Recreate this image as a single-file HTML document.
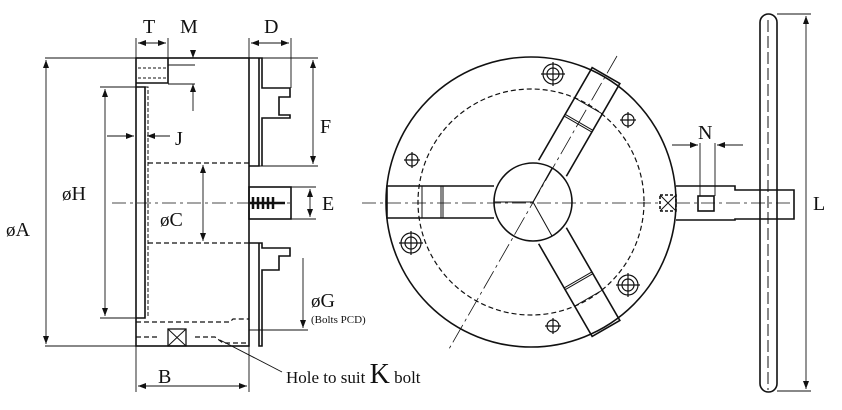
<!DOCTYPE html>
<html><head><style>body{margin:0;background:#fff}svg{display:block}text{font-family:"Liberation Serif",serif;fill:#111}</style></head><body>
<svg width="842" height="410" viewBox="0 0 842 410" xmlns="http://www.w3.org/2000/svg">
<defs><marker id="a" markerWidth="8" markerHeight="6" refX="8" refY="3" orient="auto-start-reverse" markerUnits="userSpaceOnUse"><path d="M0,0L8,3L0,6z" fill="#111"/></marker></defs>
<g stroke="#111" fill="none" stroke-width="1.6">
<rect x="136" y="58" width="113" height="288"/>
<path d="M136,87H145V318H136"/>
<path d="M145,87H148V318" stroke-width="1" stroke-dasharray="4,2"/>
<path d="M136,83H168V58"/>
<path d="M138,68H168M138,78H168" stroke-dasharray="3,2" stroke-width="1"/>
<path d="M148,163H249M148,243H249M136,322H230l3,-3H249M136,337H160M195,337H215l8,6H249" stroke-dasharray="5,3" stroke-width="1.2"/>
<rect x="168" y="329" width="18" height="17" stroke-width="1.3"/><path d="M168,329l18,17M186,329l-18,17" stroke-width="1"/>
<path d="M249,58H259V166H249M259,58H262V88H290V97H279V115H290V118H262V166"/>
<path d="M249,243H262V248H290V256H279V270H262V346H259V243"/>
<rect x="249" y="187" width="42" height="32"/>
<path d="M253,197v12M258,197v12M263,197v12M268,197v12M273,197v12M250,203H285" stroke-width="2.5"/>
<path d="M112,203H290M362,203H660M676,203H790" stroke-width="0.8" stroke-dasharray="14,4,3,4"/>
<g stroke-width="0.9">
<path d="M45,58H136M45,346H136M100,87H136M100,318H136"/>
<path d="M46,60V344" marker-start="url(#a)" marker-end="url(#a)"/>
<path d="M105,89V316" marker-start="url(#a)" marker-end="url(#a)"/>
<path d="M136,38V58M168,38V58M249,38V58M291,38V88"/>
<path d="M138,43H166" marker-start="url(#a)" marker-end="url(#a)"/>
<path d="M251,43H289" marker-start="url(#a)" marker-end="url(#a)"/>
<path d="M193,50V58" marker-end="url(#a)"/><path d="M193,111V84" marker-end="url(#a)"/>
<path d="M168,65H195M168,84H195"/>
<path d="M259,58H318M259,166H318"/>
<path d="M313,60V164" marker-start="url(#a)" marker-end="url(#a)"/>
<path d="M291,187H316M291,219H316"/>
<path d="M310,189V217" marker-start="url(#a)" marker-end="url(#a)"/>
<path d="M203,165V241" marker-start="url(#a)" marker-end="url(#a)"/>
<path d="M107,136H134" marker-end="url(#a)"/><path d="M170,136H147" marker-end="url(#a)"/>
<path d="M303,258V328" marker-end="url(#a)"/><path d="M249,330H308"/>
<path d="M136,346V392M249,346V392"/>
<path d="M138,386H247" marker-start="url(#a)" marker-end="url(#a)"/>
<path d="M220,340L282,372"/>
</g>
<circle cx="531" cy="202" r="145"/>
<circle cx="531" cy="202" r="113" stroke-dasharray="5,3" stroke-width="1.2"/>
<circle cx="533" cy="202" r="39"/>
<path d="M533,202H494M533,202L552,168M533,202L552,236" stroke-width="1"/>
<path d="M617,56L449,349" stroke-width="0.8" stroke-dasharray="20,4,3,4"/>
<g id="j"><path d="M494,186H387V218H494"/><path d="M422,186V218M441,186V218M443,186V218" stroke-width="1"/></g>
<use href="#j" transform="rotate(120 533 202)"/><use href="#j" transform="rotate(240 533 202)"/>
<g stroke-width="1.2">
<circle cx="553" cy="74" r="10"/><circle cx="553" cy="74" r="6"/><path d="M541,74H565M553,62V86"/>
<circle cx="628" cy="120" r="6"/><path d="M620,120H636M628,112V128"/>
<circle cx="412" cy="160" r="6"/><path d="M404,160H420M412,152V168"/>
<circle cx="411" cy="243" r="10"/><circle cx="411" cy="243" r="6"/><path d="M399,243H423M411,231V255"/>
<circle cx="628" cy="285" r="10"/><circle cx="628" cy="285" r="6"/><path d="M616,285H640M628,273V297"/>
<circle cx="553" cy="326" r="6"/><path d="M545,326H561M553,318V334"/>
</g>
<path d="M676,186H735V190H794V219H735V220H676"/>
<rect x="660" y="195" width="16" height="16" stroke-dasharray="3,2"/><path d="M660,195l16,16M676,195l-16,16" stroke-width="1"/>
<rect x="698" y="196" width="16" height="15"/>
<rect x="760" y="14" width="17" height="378" rx="8.5"/>
<path d="M768,20V390" stroke-width="1" stroke-dasharray="12,4"/>
<g stroke-width="0.9"><path d="M700,196V143M715,196V143"/>
<path d="M672,145H698" marker-end="url(#a)"/><path d="M743,145H717" marker-end="url(#a)"/>
<path d="M777,14H811M777,391H811"/>
<path d="M806,16V389" marker-start="url(#a)" marker-end="url(#a)"/></g>
</g>
<g font-size="20">
<text x="143" y="33">T</text><text x="180" y="33">M</text><text x="264" y="33">D</text>
<text x="320" y="133">F</text><text x="322" y="210">E</text>
<text x="62" y="200"><tspan font-size="19">ø</tspan>H</text>
<text x="160" y="226"><tspan font-size="19">ø</tspan>C</text>
<text x="6" y="236"><tspan font-size="19">ø</tspan>A</text>
<text x="175" y="145">J</text>
<text x="311" y="307"><tspan font-size="19">ø</tspan>G</text>
<text x="158" y="383">B</text>
<text x="698" y="139">N</text>
<text x="813" y="210">L</text>
</g>
<text x="311" y="323" font-size="11">(Bolts PCD)</text>
<text x="286" y="383" font-size="17">Hole to suit <tspan font-size="28">K</tspan> bolt</text>
</svg>
</body></html>
